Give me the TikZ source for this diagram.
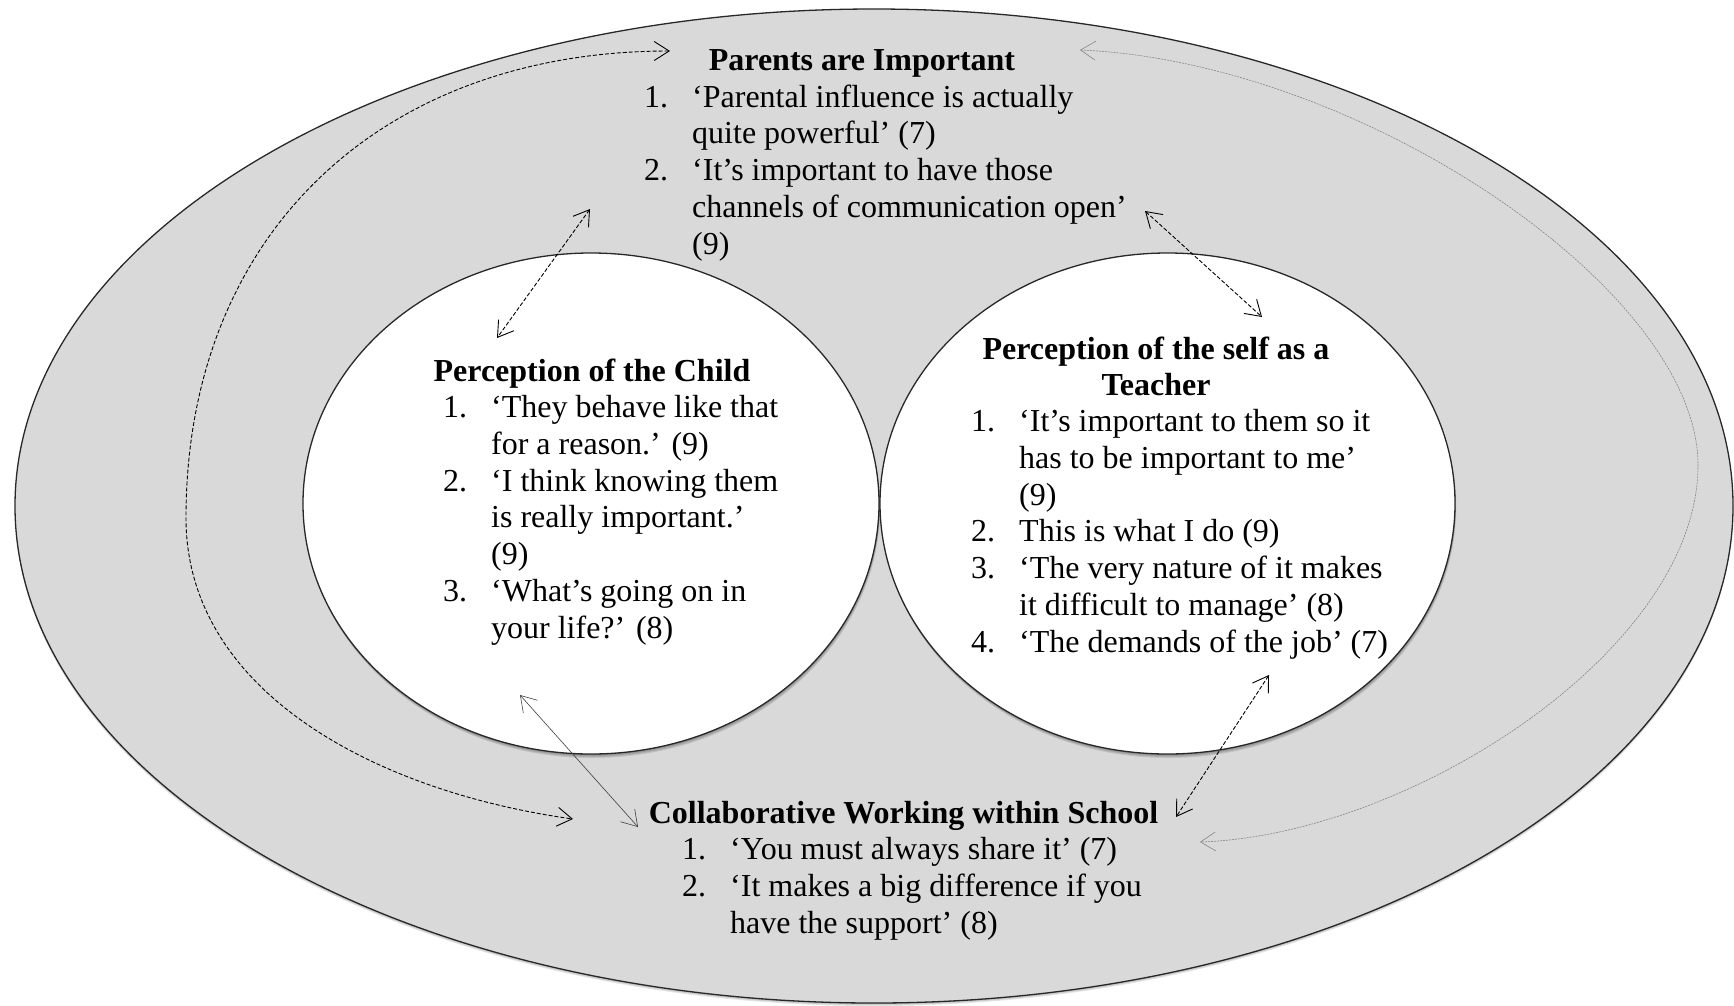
\documentclass[tikz,border=0pt]{standalone}
\usepackage{fontspec}
\setmainfont{Liberation Serif}
\usetikzlibrary{arrows.meta}
\definecolor{ringgray}{RGB}{217,217,217}
\definecolor{linegray}{RGB}{40,40,40}
\newcommand{\itemlist}[1]{\begin{tabular}[t]{@{}p{48pt}@{}l@{}}#1\end{tabular}}
\begin{document}
\begin{tikzpicture}[x=1pt,y=-1pt,
  txt/.style={inner sep=0pt, font=\fontsize{32}{36.8}\selectfont},
  ttl/.style={txt, anchor=base, font=\fontsize{32}{36.8}\selectfont\bfseries},
  lst/.style={txt, anchor=base west},
  tipbarb/.tip={Straight Barb[length=15pt,width=19pt]},
  linkdash/.style={tipbarb-tipbarb, line width=0.9pt, dash pattern=on 4pt off 2pt},
  linkfine/.style={tipbarb-tipbarb, line width=0.6pt, draw=black!75},
  linkdot/.style={tipbarb-tipbarb, line width=0.55pt, draw=black!50, dash pattern=on 2pt off 1pt},
  ring/.style={line width=1.3pt, draw=linegray},
  shade/.style={fill=black, opacity=0.10}]
\useasboundingbox (0,0) rectangle (1734,1005);

% outer field with soft shadow
\foreach \s in {1,2,3}
  \fill[shade, yshift=-\s pt] (874,506) ellipse [x radius=859pt, y radius=497pt];
\filldraw[ring, fill=ringgray] (874,506) ellipse [x radius=859pt, y radius=497pt];

% inner circles with soft shadows
\foreach \s in {1,2,3,4}{
  \fill[shade, yshift=-\s pt, xshift=0.3*\s pt] (591,503.5) ellipse [x radius=288pt, y radius=250.5pt];
  \fill[shade, yshift=-\s pt, xshift=0.3*\s pt] (1167.5,503.5) ellipse [x radius=287.5pt, y radius=250.5pt];
}
\filldraw[ring, fill=white] (591,503.5) ellipse [x radius=288pt, y radius=250.5pt];
\filldraw[ring, fill=white] (1167.5,503.5) ellipse [x radius=287.5pt, y radius=250.5pt];

% titles
\node[ttl] (parentsT) at (862,70.2) {Parents are Important};
\node[ttl] (childT) at (592,381) {Perception of the Child};
\node[ttl] (teachT1) at (1156,359.5) {Perception of the self as a};
\node[ttl] (teachT2) at (1156,395) {Teacher};
\node[ttl] (collabT) at (903.5,823) {Collaborative Working within School};

% item lists
\node[lst] (parentsL) at (644,107) {\itemlist{%
1. & ‘Parental influence is actually\\
   & quite powerful’ (7)\\
2. & ‘It’s important to have those\\
   & channels of communication open’\\
   & (9)}};
\node[lst] (childL) at (443,417.5) {\itemlist{%
1. & ‘They behave like that\\
   & for a reason.’ (9)\\
2. & ‘I think knowing them\\
   & is really important.’\\
   & (9)\\
3. & ‘What’s going on in\\
   & your life?’ (8)}};
\node[lst] (teachL) at (971,431.5) {\itemlist{%
1. & ‘It’s important to them so it\\
   & has to be important to me’\\
   & (9)\\
2. & This is what I do (9)\\
3. & ‘The very nature of it makes\\
   & it difficult to manage’ (8)\\
4. & ‘The demands of the job’ (7)}};
\node[lst] (collabL) at (682,859.5) {\itemlist{%
1. & ‘You must always share it’ (7)\\
2. & ‘It makes a big difference if you\\
   & have the support’ (8)}};

% connector end points
\coordinate (pcP) at (590,209);
\coordinate (pcC) at (497,338);
\coordinate (ptP) at (1145,211);
\coordinate (ptT) at (1262,317);
\coordinate (ccC) at (520,695);
\coordinate (ccW) at (638,827);
\coordinate (tcT) at (1269,675);
\coordinate (tcW) at (1176,817);
\coordinate (loopLtop) at (670,51);
\coordinate (loopLside) at (186,518);
\coordinate (loopLbot) at (573,819);
\coordinate (loopRtop) at (1080,50);
\coordinate (loopRside) at (1698,465);
\coordinate (loopRbot) at (1200,842);

% short links
\draw[linkdash] (pcP) -- (pcC);
\draw[linkdash] (ptP) -- (ptT);
\draw[linkfine] (ccC) -- (ccW);
\draw[linkdash] (tcT) -- (tcW);

% long links round the circles
\draw[linkdash] (loopLtop) .. controls (380,51) and (186,235) .. (loopLside)
  .. controls (186,690) and (373,791) .. (loopLbot);
\draw[linkdot] (loopRtop) .. controls (1360,62) and (1698,290) .. (loopRside)
  .. controls (1698,650) and (1410,835) .. (loopRbot);
\end{tikzpicture}
\end{document}
